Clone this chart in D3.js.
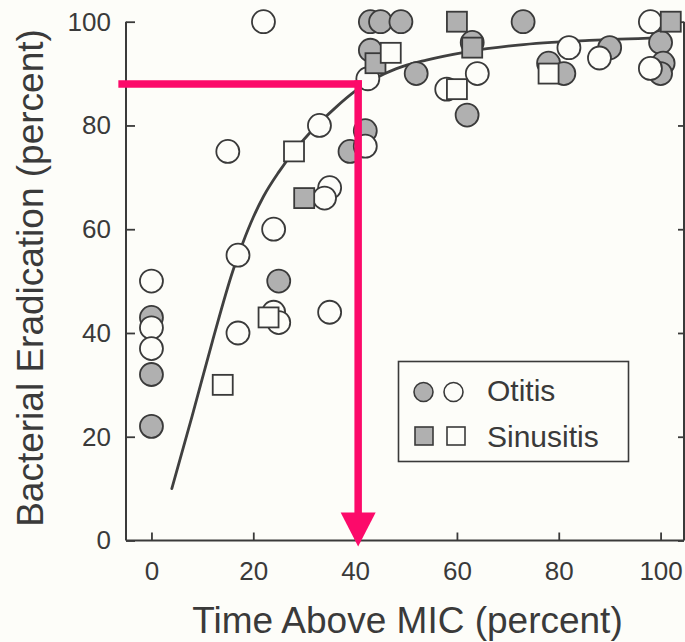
<!DOCTYPE html>
<html>
<head>
<meta charset="utf-8">
<script src="https://cdn.jsdelivr.net/npm/d3@7"></script>
<style>
  html, body { margin: 0; padding: 0; background: #fdfdf9; }
  svg { display: block; }
  text { font-family: "Liberation Sans", Arial, Helvetica, sans-serif; fill: #3a3a3a; }
</style>
</head>
<body>
<script>
// ---- data ----
const xTicks = [0, 20, 40, 60, 80, 100];
const yTicks = [0, 20, 40, 60, 80, 100];
const xTitle = "Time Above MIC (percent)";
const yTitle = "Bacterial Eradication (percent)";
const legendLabels = ["Otitis", "Sinusitis"];

// Otitis, filled circles
const otitisFilled = [
  [0, 43], [0, 32], [0, 22], [25, 50], [39, 75], [42, 79], [43, 94.5],
  [43, 100], [45, 100], [49, 100], [52, 90], [62, 82], [63, 96], [73, 100],
  [78, 92], [81, 90], [90, 95], [100, 96], [100.5, 92], [100, 90]
];
// Otitis, open circles
const otitisOpen = [
  [0, 50], [0, 41], [0, 37], [15, 75], [17, 55], [17, 40], [22, 100],
  [24, 60], [24, 44], [25, 42], [33, 80], [35, 68], [34, 66], [35, 44],
  [42, 76], [42.5, 89], [58, 87], [64, 90], [82, 95], [88, 93], [98, 100], [98, 91]
];
// Sinusitis, filled squares
const sinusitisFilled = [
  [30, 66], [44, 92], [60, 100], [63, 95], [102, 100]
];
// Sinusitis, open squares
const sinusitisOpen = [
  [14, 30], [23, 43], [28, 75], [47, 94], [60, 87], [78, 90]
];
// fitted curve
const curvePts = [
  [4, 10], [8, 24], [12, 38.5], [16, 52], [18, 57.5], [20, 62.3], [22, 66.3],
  [25, 71], [28, 75], [32, 79.5], [36, 83.3], [40, 86.6], [44, 89.1], [48, 90.9],
  [54, 92.6], [62, 94.2], [72, 95.5], [86, 96.4], [100, 96.9]
];
// pink annotation (reference point)
const refPoint = [40.6, 88];

// ---- layout ----
const W = 685, H = 642;
const svg = d3.select("body").append("svg").attr("width", W).attr("height", H);
svg.append("rect").attr("width", W).attr("height", H).attr("fill", "#fdfdf9");

const xMin = -5, xMax = 104.6;
const x = d3.scaleLinear().domain([xMin, xMax]).range([126, 684]);
const y = d3.scaleLinear().domain([0, 100]).range([540.5, 21.7]);

const ink = "#3a3a3a";

// axes
const gx = svg.append("g").attr("transform", `translate(0,${y(0)})`)
  .call(d3.axisBottom(x).tickValues(xTicks).tickSizeInner(-8).tickSizeOuter(0).tickPadding(21));
gx.select(".domain").remove();
gx.selectAll(".tick line").attr("stroke", ink).attr("stroke-width", 1.8);
gx.selectAll(".tick text").attr("font-size", 26).attr("fill", ink)
  .style("font-family", "'Liberation Sans', Arial, sans-serif");
svg.append("line").attr("x1", x(xMin)).attr("x2", x(xMax)).attr("y1", y(0)).attr("y2", y(0))
  .attr("stroke", ink).attr("stroke-width", 2);

const gy = svg.append("g").attr("transform", `translate(${x(xMin)},0)`)
  .call(d3.axisLeft(y).tickValues(yTicks).tickSizeInner(-9).tickSizeOuter(0).tickPadding(15));
gy.select(".domain").remove();
gy.selectAll(".tick line").attr("stroke", ink).attr("stroke-width", 1.8);
gy.selectAll(".tick text").attr("font-size", 26).attr("fill", ink)
  .style("font-family", "'Liberation Sans', Arial, sans-serif");
svg.append("line").attr("x1", x(xMin)).attr("x2", x(xMin)).attr("y1", y(0)).attr("y2", y(100))
  .attr("stroke", ink).attr("stroke-width", 2);

// right axis (frame)
const gr = svg.append("g").attr("transform", `translate(${x(xMax)},0)`)
  .call(d3.axisRight(y).tickValues(yTicks).tickSizeInner(-6).tickSizeOuter(0).tickFormat(""));
gr.select(".domain").remove();
gr.selectAll(".tick line").attr("stroke", ink).attr("stroke-width", 1.8);
svg.append("line").attr("x1", x(xMax)).attr("x2", x(xMax)).attr("y1", y(0)).attr("y2", y(100))
  .attr("stroke", ink).attr("stroke-width", 2);

// axis titles
svg.append("text").attr("x", 407.5).attr("y", 633).attr("text-anchor", "middle")
  .attr("font-size", 37).text(xTitle);
svg.append("text").attr("transform", "translate(43,278) rotate(-90)").attr("text-anchor", "middle")
  .attr("font-size", 37).text(yTitle);

// fitted curve
svg.append("path").datum(curvePts)
  .attr("d", d3.line().x(d => x(d[0])).y(d => y(d[1])).curve(d3.curveMonotoneX))
  .attr("fill", "none").attr("stroke", "#404040").attr("stroke-width", 2.8)
  .attr("stroke-linecap", "round");

// markers
const fillGray = "#b0b0b0";
const R = 11.5, S = 20;
function circles(data, fill) {
  svg.append("g").selectAll("circle").data(data).join("circle")
    .attr("cx", d => x(d[0])).attr("cy", d => y(d[1])).attr("r", R)
    .attr("fill", fill).attr("stroke", ink).attr("stroke-width", 1.8);
}
function squares(data, fill) {
  svg.append("g").selectAll("rect").data(data).join("rect")
    .attr("x", d => x(d[0]) - S / 2).attr("y", d => y(d[1]) - S / 2)
    .attr("width", S).attr("height", S)
    .attr("fill", fill).attr("stroke", ink).attr("stroke-width", 1.8);
}
circles(otitisFilled, fillGray);
circles(otitisOpen, "#fdfdf9");
squares(sinusitisFilled, fillGray);
squares(sinusitisOpen, "#fdfdf9");

// pink annotation
const pink = "#fc0a6a";
const px = x(refPoint[0]), py = y(refPoint[1]);
svg.append("line").attr("x1", x(-6.5)).attr("x2", px + 3.75).attr("y1", py).attr("y2", py)
  .attr("stroke", pink).attr("stroke-width", 7.5);
svg.append("line").attr("x1", px).attr("x2", px).attr("y1", py - 3.75).attr("y2", 516)
  .attr("stroke", pink).attr("stroke-width", 7.5);
const tipY = y(0) + 6;
svg.append("path")
  .attr("d", `M${px - 17.5},${tipY - 34}L${px + 17.5},${tipY - 34}L${px},${tipY}Z`)
  .attr("fill", pink);

// legend
const lg = svg.append("g");
lg.append("rect").attr("x", 398.5).attr("y", 361.5).attr("width", 230).attr("height", 100)
  .attr("fill", "#fdfdf9").attr("stroke", ink).attr("stroke-width", 1.6);
lg.append("circle").attr("cx", 423.5).attr("cy", 392).attr("r", 9.5)
  .attr("fill", fillGray).attr("stroke", ink).attr("stroke-width", 1.6);
lg.append("circle").attr("cx", 453.5).attr("cy", 392).attr("r", 9.5)
  .attr("fill", "#fdfdf9").attr("stroke", ink).attr("stroke-width", 1.6);
lg.append("rect").attr("x", 415).attr("y", 427).attr("width", 18).attr("height", 18)
  .attr("fill", fillGray).attr("stroke", ink).attr("stroke-width", 1.6);
lg.append("rect").attr("x", 447).attr("y", 427).attr("width", 18).attr("height", 18)
  .attr("fill", "#fdfdf9").attr("stroke", ink).attr("stroke-width", 1.6);
lg.append("text").attr("x", 487).attr("y", 400.5).attr("font-size", 30).text(legendLabels[0]);
lg.append("text").attr("x", 487).attr("y", 447).attr("font-size", 30).text(legendLabels[1]);
</script>
</body>
</html>
